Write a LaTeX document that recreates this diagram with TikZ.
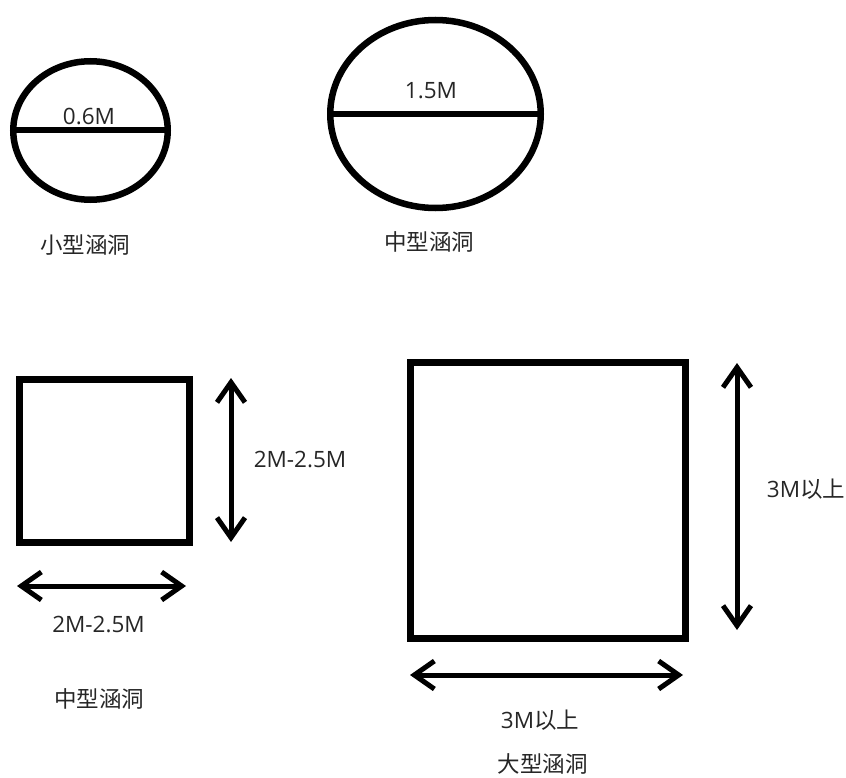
\documentclass[tikz,border=0pt]{standalone}
\usepackage{fontspec}
\setmainfont{Open Sans}
\newfontfamily\cjk{Noto Sans CJK SC}
\usetikzlibrary{shapes.geometric,arrows.meta}
\tikzset{
  outline/.style={draw=black,line width=6.5pt},
  round/.style={outline,ellipse,inner sep=0pt},
  box/.style={outline,rectangle,inner sep=0pt},
  dim/.style={line width=5pt,{Straight Barb[length=20pt,width=28pt]}-{Straight Barb[length=20pt,width=28pt]}},
  lbl/.style={text=black!85,font=\fontsize{22.5}{26}\selectfont,inner sep=0pt}
}
\begin{document}
\begin{tikzpicture}[x=1pt,y=-1pt]
\useasboundingbox (0,0) rectangle (846,778);
% circles
\node[round,minimum width=154.5pt,minimum height=138.5pt] (c1) at (90.5,130.5) {};
\draw[line width=6pt] (c1.west) -- (c1.east);
\node[lbl] (t1) at (89,116.5) {0.6M};
\node[lbl] (n1) at (85,245.5) {\cjk 小型涵洞};

\node[round,minimum width=210.5pt,minimum height=188pt] (c2) at (435.5,114) {};
\draw[line width=6pt] (c2.west) -- (c2.east);
\node[lbl] (t2) at (431,90.5) {1.5M};
\node[lbl] (n2) at (429,242) {\cjk 中型涵洞};

% small square
\node[box,minimum width=170.4pt,minimum height=163.4pt] (s1) at (104.5,461) {};
\coordinate (v1a) at (231,378);
\coordinate (v1b) at (231,542);
\draw[dim] (v1a) -- (v1b);
\node[lbl] (t3) at (300,460) {2M-2.5M};
\coordinate (h1a) at (17,586);
\coordinate (h1b) at (186,586);
\draw[dim] (h1a) -- (h1b);
\node[lbl] (t4) at (98.5,625) {2M-2.5M};
\node[lbl] (n3) at (99,698.5) {\cjk 中型涵洞};

% large square
\node[box,minimum width=275.4pt,minimum height=276.4pt] (s2) at (548,500.5) {};
\coordinate (v2a) at (737,363);
\coordinate (v2b) at (737,630);
\draw[dim] (v2a) -- (v2b);
\node[lbl] (t5) at (806,489) {3M{\cjk 以上}};
\coordinate (h2a) at (410,675);
\coordinate (h2b) at (683,675);
\draw[dim] (h2a) -- (h2b);
\node[lbl] (t6) at (540,720) {3M{\cjk 以上}};
\node[lbl] (n4) at (542.5,764) {\cjk 大型涵洞};
\end{tikzpicture}
\end{document}
